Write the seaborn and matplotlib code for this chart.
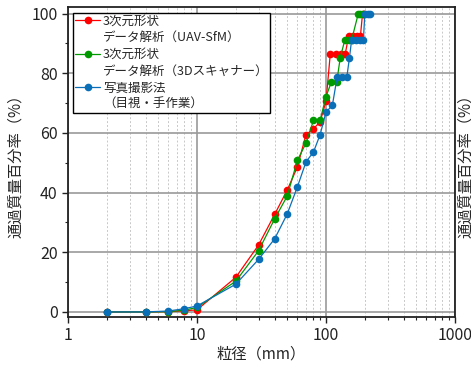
import matplotlib
matplotlib.use("Agg")
import matplotlib.pyplot as plt
import matplotlib.ticker as mticker
from matplotlib.lines import Line2D
import seaborn as sns
import pandas as pd

# ---- data ----
uav_x = [2, 4, 6, 8, 10, 20, 30, 40, 50, 60, 70, 80, 90, 100, 108, 120, 131, 141, 150, 162, 175, 185, 192, 198]
uav_y = [0, 0, 0.1, 0.4, 0.7, 11.6, 22.4, 32.7, 40.8, 48.6, 59.4, 61.4, 63.7, 70.6, 86.5, 86.5, 86.5, 86.5, 92.6, 92.6, 92.6, 92.6, 100, 100]

scan_x = [2, 4, 6, 8, 10, 20, 30, 40, 50, 60, 70, 80, 90, 100, 110, 121, 129, 140, 150, 158, 178, 185, 192]
scan_y = [0, 0, 0.1, 0.6, 1.5, 10.3, 20.5, 31.2, 38.8, 50.8, 56.6, 64.2, 64.2, 72.2, 77.0, 77.0, 85.2, 91.2, 91.2, 91.2, 100, 100, 100]

photo_x = [2, 4, 6, 8, 10, 20, 30, 40, 50, 60, 70, 80, 90, 100, 112, 122, 132, 145, 152, 158, 170, 182, 195, 200, 210, 218]
photo_y = [0, 0, 0.3, 1.1, 2.0, 9.3, 17.6, 24.5, 32.8, 41.9, 50.3, 53.6, 59.4, 67.0, 69.2, 78.7, 78.7, 78.7, 85.2, 91.2, 91.2, 91.2, 91.2, 100, 100, 100]

series_labels = [["3次元形状", "データ解析（UAV-SfM）"],
                 ["3次元形状", "データ解析（3Dスキャナー）"],
                 ["写真撮影法", "（目視・手作業）"]]
series_colors = ["#ff0000", "#009a00", "#0b6fb8"]

x_ticks = [1, 10, 100, 1000]
y_ticks = [0, 20, 40, 60, 80, 100]
x_label = "粒径（mm）"
y_label = "通過質量百分率（%）"

# ---- style ----
sns.set_style("ticks")
plt.rcParams['font.family'] = ['Noto Sans CJK JP', 'DejaVu Sans']

fig = plt.figure(figsize=(4.71, 3.65), dpi=100)
ax = fig.add_axes([68/471, (365-317)/365, (455-68)/471, (317-7)/365])

datasets = [(uav_x, uav_y), (scan_x, scan_y), (photo_x, photo_y)]
for (xs, ys), col in zip(datasets, series_colors):
    df = pd.DataFrame({"x": xs, "y": ys})
    sns.lineplot(data=df, x="x", y="y", ax=ax, color=col, marker="o",
                 markersize=5.5, markeredgewidth=0, linewidth=0.9,
                 estimator=None, sort=False, zorder=3)

ax.set_xscale("log")
ax.set_xlim(1, 1000)
ax.set_ylim(-1.7, 102.2)
ax.set_xticks(x_ticks)
ax.xaxis.set_major_formatter(mticker.FuncFormatter(lambda v, p: f"{int(round(v))}"))
ax.xaxis.set_minor_locator(mticker.LogLocator(base=10, subs=range(2, 10)))
ax.xaxis.set_minor_formatter(mticker.NullFormatter())
ax.set_yticks(y_ticks)
ax.yaxis.set_minor_locator(mticker.MultipleLocator(10))

ax.grid(True, which="major", axis="both", color="#9a9a9a", linewidth=1.2, zorder=0)
ax.grid(True, which="minor", axis="x", color="#c8c8c8", linestyle=(0, (2, 2)), linewidth=0.7, zorder=0)

for s in ax.spines.values():
    s.set_color("#222222")
    s.set_linewidth(1.3)

ax.tick_params(axis="both", which="major", direction="out", length=4.5, width=1, labelsize=11.5, colors="#222222", pad=3)
ax.tick_params(axis="both", which="minor", direction="out", length=2.5, width=0.8, colors="#222222")

ax.set_xlabel(x_label, fontsize=11, labelpad=1)
ax.set_ylabel(y_label, fontsize=11, labelpad=5)

# legend with each text line as its own row
handles, labels = [], []
for lab, col in zip(series_labels, series_colors):
    handles.append(Line2D([], [], color=col, marker="o", markersize=5.5, markeredgewidth=0, linewidth=0.9))
    labels.append(lab[0])
    handles.append(Line2D([], [], color="none", marker=None, linewidth=0))
    labels.append(lab[1])
leg = ax.legend(handles, labels, loc="upper left", bbox_to_anchor=(0.014, 0.982),
                fontsize=9, frameon=True, fancybox=False, framealpha=1,
                edgecolor="black", labelspacing=0.3, handlelength=2.0,
                handletextpad=0.2, borderpad=0.15, borderaxespad=0.0)
leg.get_frame().set_linewidth(1.0)

# partially visible label at right edge
fig.text(466/471, 1 - 162/365, y_label, rotation=90, ha="center", va="center", fontsize=11)

fig.savefig("out.png", dpi=100)
